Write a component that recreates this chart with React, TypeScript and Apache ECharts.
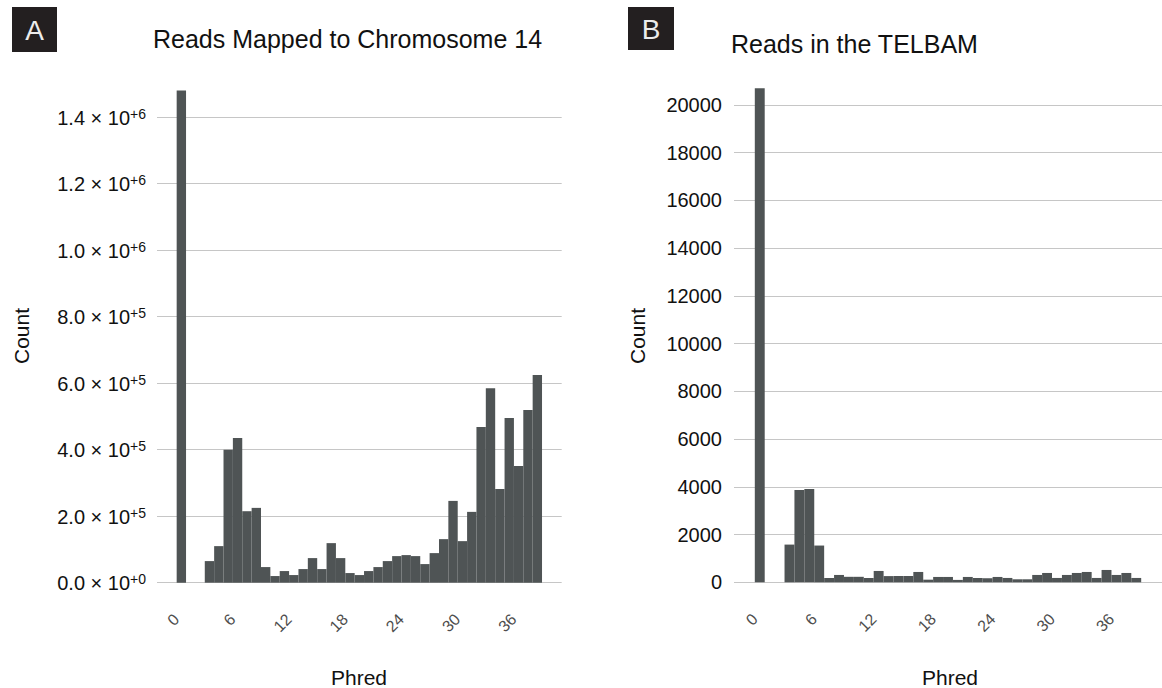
import React, { useEffect, useRef } from 'react';
import * as echarts from 'echarts';

// Phred quality score bins (one bar per integer score)
const phred = [
  0, 1, 2, 3, 4, 5, 6, 7, 8, 9, 10, 11, 12, 13, 14, 15, 16, 17, 18, 19,
  20, 21, 22, 23, 24, 25, 26, 27, 28, 29, 30, 31, 32, 33, 34, 35, 36, 37, 38,
];

// Read counts per Phred score, chromosome 14
const chr14Counts = [
  1480000, 0, 0, 65000, 110000, 400000, 435000, 215000, 225000, 47000,
  20000, 35000, 23000, 41000, 74000, 41000, 119000, 74000, 29000, 23000,
  35000, 47000, 65000, 80000, 83000, 80000, 56000, 89000, 131000, 246000,
  125000, 213000, 468000, 585000, 282000, 495000, 351000, 519000, 625000,
];

// Read counts per Phred score, TELBAM
const telbamCounts = [
  20700, 0, 0, 1580, 3870, 3910, 1540, 180, 308, 230,
  230, 180, 475, 260, 265, 265, 433, 110, 224, 224,
  100, 224, 180, 170, 224, 182, 126, 126, 308, 391,
  182, 308, 391, 433, 182, 517, 308, 391, 182,
];

const phredTicks = [0, 6, 12, 18, 24, 30, 36];
const panelTitles = ['Reads Mapped to Chromosome 14', 'Reads in the TELBAM'];
const panelLetters = ['A', 'B'];
const xAxisTitle = 'Phred';
const yAxisTitle = 'Count';

const FONT = "'Liberation Sans', Arial, Helvetica, sans-serif";
const BAR_COLOR = '#4f5455';
const GRID_COLOR = '#c6c6c6';

const histogram = (axisIndex: number, counts: number[]) => ({
  type: 'custom',
  xAxisIndex: axisIndex,
  yAxisIndex: axisIndex,
  data: phred.map((p, i) => [p, counts[i]]),
  encode: { x: 0, y: 1 },
  renderItem: (_params: any, api: any) => {
    const x = api.value(0);
    const y = api.value(1);
    if (!y) return { type: 'group', children: [] };
    const topLeft = api.coord([x - 0.5, y]);
    const bottomRight = api.coord([x + 0.5, 0]);
    return {
      type: 'rect',
      shape: {
        x: topLeft[0],
        y: topLeft[1],
        width: bottomRight[0] - topLeft[0],
        height: bottomRight[1] - topLeft[1],
      },
      style: { fill: BAR_COLOR },
    };
  },
});

const sciLabel = (v: number) => {
  if (v % 200000 !== 0) return '';
  const exp = v === 0 ? 0 : Math.floor(Math.log10(v));
  const mant = v / Math.pow(10, exp);
  return `{m|${mant.toFixed(1)} × 10}{s|+${exp}}`;
};

const phredAxis = (gridIndex: number) => ({
  type: 'value',
  gridIndex,
  min: -2.6,
  max: 40.6,
  axisLine: { show: false },
  axisTick: { show: false },
  splitLine: { show: false },
  axisLabel: {
    customValues: phredTicks,
    rotate: 45,
    margin: 29,
    padding: [0, 7, 0, 0],
    fontSize: 16,
    color: '#4d4d4d',
    fontFamily: FONT,
  },
});

const letterBox = (letter: string, x: number, y: number, w: number, h: number) => ({
  type: 'group',
  x,
  y,
  children: [
    { type: 'rect', shape: { x: 0, y: 0, width: w, height: h }, style: { fill: '#231f20' } },
    {
      type: 'text',
      x: w / 2,
      y: h / 2 + 1,
      style: {
        text: letter,
        fill: '#ececec',
        font: `28px ${FONT}`,
        align: 'center',
        verticalAlign: 'middle',
        textAlign: 'center',
        textVerticalAlign: 'middle',
      },
    },
  ],
});

const axisText = (text: string, x: number, y: number, vertical: boolean) => ({
  type: 'text',
  x,
  y,
  rotation: vertical ? Math.PI / 2 : 0,
  style: {
    text,
    fill: '#111111',
    font: `21px ${FONT}`,
    align: 'center',
    verticalAlign: 'middle',
    textAlign: 'center',
    textVerticalAlign: 'middle',
  },
});

export default function App() {
  const ref = useRef<HTMLDivElement>(null);

  useEffect(() => {
    if (!ref.current) return;
    const chart = echarts.init(ref.current, undefined, { renderer: 'svg' });

    const chrGridColors = [...Array(8).fill(GRID_COLOR), 'rgba(0,0,0,0)'];
    const telGridColors = [...Array(11).fill(GRID_COLOR), 'rgba(0,0,0,0)'];

    chart.setOption({
      animation: false,
      backgroundColor: '#ffffff',
      title: [
        {
          text: panelTitles[0],
          left: 153,
          top: 26,
          padding: 0,
          textStyle: { fontSize: 25, fontWeight: 'normal', color: '#111111', fontFamily: FONT },
        },
        {
          text: panelTitles[1],
          left: 731,
          top: 31,
          padding: 0,
          textStyle: { fontSize: 25, fontWeight: 'normal', color: '#111111', fontFamily: FONT },
        },
      ],
      grid: [
        { left: 157, top: 67.3, width: 404.7, height: 515.4 },
        { left: 734, top: 64.4, width: 432, height: 517.9 },
      ],
      xAxis: [phredAxis(0), phredAxis(1)],
      yAxis: [
        {
          type: 'value',
          gridIndex: 0,
          min: 0,
          max: 1550000,
          interval: 200000,
          axisLine: { show: false },
          axisTick: { show: false },
          splitLine: { show: true, lineStyle: { color: chrGridColors, width: 1 } },
          axisLabel: {
            margin: 11,
            formatter: sciLabel,
            rich: {
              m: { fontSize: 20, color: '#111111', fontFamily: FONT, lineHeight: 21, verticalAlign: 'bottom' },
              s: { fontSize: 14, color: '#111111', fontFamily: FONT, lineHeight: 14, verticalAlign: 'top' },
            },
          },
        },
        {
          type: 'value',
          gridIndex: 1,
          min: 0,
          max: 21700,
          interval: 2000,
          axisLine: { show: false },
          axisTick: { show: false },
          splitLine: { show: true, lineStyle: { color: telGridColors, width: 1 } },
          axisLabel: {
            margin: 12,
            fontSize: 20,
            color: '#111111',
            fontFamily: FONT,
            formatter: (v: number) => (v % 2000 === 0 ? String(v) : ''),
          },
        },
      ],
      series: [histogram(0, chr14Counts), histogram(1, telbamCounts)],
      graphic: [
        letterBox(panelLetters[0], 12, 7, 45, 45),
        letterBox(panelLetters[1], 628, 7, 46, 43),
        axisText(yAxisTitle, 21, 336, true),
        axisText(yAxisTitle, 637, 336, true),
        axisText(xAxisTitle, 359, 677, false),
        axisText(xAxisTitle, 950, 677, false),
      ],
    });

    return () => chart.dispose();
  }, []);

  return (
    <div
      ref={ref}
      style={{ position: 'fixed', left: 0, top: 0, width: 1162, height: 688 }}
    />
  );
}
